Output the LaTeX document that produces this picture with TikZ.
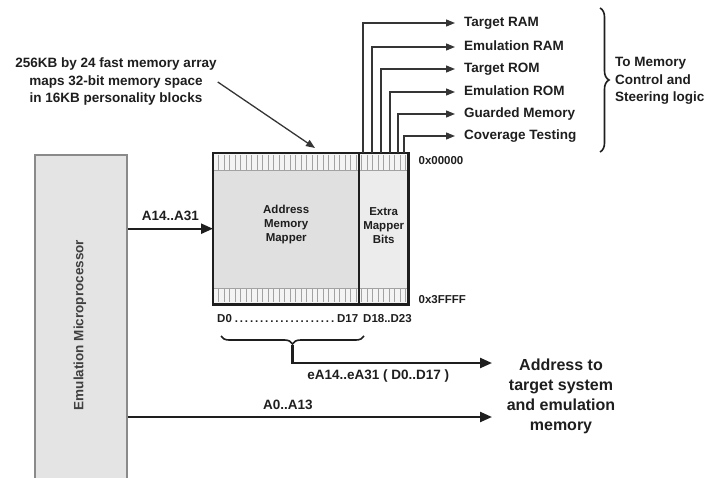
\documentclass[tikz,border=0pt]{standalone}
\usepackage{fontspec}
\setmainfont{Liberation Sans}
\usepackage{xcolor}
\definecolor{embox}{HTML}{E4E4E4}
\definecolor{emedge}{HTML}{8A8A8A}
\definecolor{amfill}{HTML}{E0E0E0}
\definecolor{exfill}{HTML}{ECECEC}
\definecolor{bandfill}{HTML}{F4F4F4}
\definecolor{stripe}{HTML}{A2A2A2}
\definecolor{ink}{HTML}{1E1E1E}
\usetikzlibrary{arrows.meta,positioning,decorations.pathreplacing,calc}
\newcommand{\fsz}[2]{\fontsize{#1}{#2}\selectfont\bfseries}

\begin{document}
\begin{tikzpicture}[x=1pt,y=-1pt,>=Latex]
\tikzset{
 txt/.style={text=ink,inner sep=1pt,align=center},
 sigl/.style={txt,anchor=west,inner xsep=9pt,font=\fsz{13.5}{16},text height=10pt,text depth=2.5pt},
 sig/.style={-{Triangle[length=9pt,width=7pt]},line width=1.3pt,draw=ink!90},
 bus/.style={-{Triangle[length=12pt,width=10pt]},line width=2.3pt,draw=ink},
 brc/.style={decorate,line width=1.6pt,draw=ink},
 cell/.style={anchor=north west,inner sep=0pt,minimum height=151pt,txt,font=\fsz{11.5}{14}}
}
\useasboundingbox (0,0) rectangle (711,478);

% emulation processor
\node[draw=emedge,fill=embox,line width=1.6pt,anchor=north west,minimum width=92pt,minimum height=340pt] (emp) at (34,154) {};
\node[txt,rotate=90,font=\fsz{13.5}{16},text=ink!85] (emptxt) at (80,325) {Emulation Microprocessor};

% memory array
\node[cell,fill=amfill,minimum width=146pt] (amm) at (213,153) {Address\\Memory\\Mapper\\[-4pt]};
\node[cell,fill=exfill,minimum width=49pt] (emb) at (359,153) {Extra\\Mapper\\Bits\\[-7pt]};
\fill[bandfill] (amm.north west) rectangle ($(emb.north east)+(0,17)$);
\fill[bandfill] ($(amm.south west)+(0,-16)$) rectangle (emb.south east);
\draw[stripe,line width=0.6pt] ($(amm.north west)+(0,17)$) -- ($(emb.north east)+(0,17)$);
\draw[stripe,line width=0.6pt] ($(amm.south west)+(0,-16)$) -- ($(emb.south east)+(0,-16)$);
\foreach \x in {218.5,224,...,406}{
 \draw[stripe,line width=0.7pt] (\x,155) -- (\x,170);
 \draw[stripe,line width=0.7pt] (\x,288) -- (\x,302);
}
\draw[ink,line width=2.2pt] (amm.north west) rectangle (emb.south east);
\draw[ink,line width=2.2pt] (emb.north west) -- (emb.south west);

\node[txt,anchor=west,font=\fsz{11.5}{14}] (top) at ($(emb.north east)+(9,8)$) {0x00000};
\node[txt,anchor=west,font=\fsz{11.5}{14}] (bot) at ($(emb.south east)+(9,-5)$) {0x3FFFF};
\node[txt,anchor=west,font=\fsz{11.5}{14}] (dlo) at (216,319) {\hbox to 141pt{D0\dotfill D17}};
\node[txt,anchor=west,font=\fsz{11.5}{14}] (dhi) at (362,319) {D18..D23};

% note
\node[txt,font=\fsz{13.5}{17.5}] (note) at (116,82) {256KB by 24 fast memory array\\maps 32-bit memory space\\in 16KB personality blocks};
\coordinate (ntip) at (315,148);
\draw[sig] (note.east) -- (ntip);

% control outputs
\foreach \dx/\y/\name [count=\i] in {4/23/Target RAM,13/47/Emulation RAM,22/69/Target ROM,31/92/Emulation ROM,39/114/Guarded Memory,45/136/Coverage Testing}{
 \node[sigl] (sig\i) at (455,\y) {\name};
 \draw[sig] ([xshift=\dx]emb.north west) |- (sig\i.west);
}
\draw[brc,decoration={brace,amplitude=9pt}] (600,8) -- (600,152);
\node[txt,anchor=west,align=left,font=\fsz{13.5}{17.5}] (ctl) at (614,81) {To Memory\\Control and\\Steering logic};

% address buses
\draw[bus] (emp.east |- amm.west) -- node[txt,above=6pt,font=\fsz{13.5}{16}] (ahi) {A14..A31} (amm.west);
\node[txt,font=\fsz{16}{20}] (addr) at (561,396) {Address to\\target system\\and emulation\\memory};
\coordinate (eatip) at (492,363);
\coordinate (a0tip) at (492,417);
\coordinate (bl) at (221,336);
\coordinate (br) at (364,336);
\coordinate (bt) at (292.5,345);
\draw[brc,decoration={brace,mirror,amplitude=8pt}] (bl) -- (br);
\draw[bus] (bt) |- node[txt,pos=0.715,below=5pt,font=\fsz{13.5}{16}] (ealbl) {eA14..eA31 ( D0..D17 )} (eatip);
\draw[bus] (a0tip -| emp.east) -- node[txt,pos=0.44,above=5pt,font=\fsz{13.5}{16}] (alo) {A0..A13} (a0tip);
\end{tikzpicture}
\end{document}
